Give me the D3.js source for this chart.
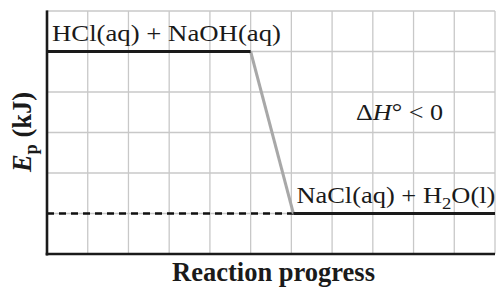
<!DOCTYPE html>
<html>
<head>
<meta charset="utf-8">
<script src="https://cdn.jsdelivr.net/npm/d3@7"></script>
<style>
  body { margin: 0; background: #fff; }
  svg { display: block; font-family: "Liberation Serif", "Times New Roman", serif; }
</style>
</head>
<body>
<div id="chart"></div>
<script>
// Energy levels (grid units) and progress points
var progress = [0, 5, 6.05, 11];
var energy   = [5, 5, 1, 1];
var gridX = [1, 2, 3, 4, 5, 6, 7, 8, 9, 10, 11];
var gridY = [1, 2, 3, 4, 5, 6];
var reactantLabel = "HCl(aq) + NaOH(aq)";
var productLabel = ["NaCl(aq) + H", "2", "O(l)"];

// Set margin parameters
var W = 496, H = 287;
var margin = {top: 11, right: 1, bottom: 33, left: 47};

var x = d3.scaleLinear().domain([0, 11]).range([margin.left, W - margin.right]);
var y = d3.scaleLinear().domain([0, 6]).range([H - margin.bottom, margin.top]);

var svg = d3.select('#chart').append('svg')
    .attr('width', W)
    .attr('height', H);

// grid
svg.append('g').selectAll('line.v')
    .data(gridX).enter().append('line')
    .attr('x1', function(d) { return x(d); })
    .attr('x2', function(d) { return x(d); })
    .attr('y1', y(0)).attr('y2', y(6))
    .attr('stroke', '#c8c8c8').attr('stroke-width', 1.3);

svg.append('g').selectAll('line.h')
    .data(gridY).enter().append('line')
    .attr('y1', function(d) { return y(d); })
    .attr('y2', function(d) { return y(d); })
    .attr('x1', x(0)).attr('x2', x(11))
    .attr('stroke', '#c8c8c8').attr('stroke-width', 1.3);

// dashed product level reference
svg.append('line')
    .attr('x1', x(progress[0])).attr('x2', x(progress[2]))
    .attr('y1', y(energy[2])).attr('y2', y(energy[2]))
    .attr('stroke', '#111').attr('stroke-width', 2.5)
    .attr('stroke-dasharray', '7,5');

// transition (grey)
svg.append('line')
    .attr('x1', x(progress[1])).attr('y1', y(energy[1]))
    .attr('x2', x(progress[2])).attr('y2', y(energy[2]))
    .attr('stroke', '#a8a8a8').attr('stroke-width', 3);

// reactant level
svg.append('line')
    .attr('x1', x(progress[0])).attr('x2', x(progress[1]))
    .attr('y1', y(energy[0])).attr('y2', y(energy[1]))
    .attr('stroke', '#1a1a1a').attr('stroke-width', 3.2);

// product level
svg.append('line')
    .attr('x1', x(progress[2])).attr('x2', x(progress[3]))
    .attr('y1', y(energy[2])).attr('y2', y(energy[3]))
    .attr('stroke', '#1a1a1a').attr('stroke-width', 3.2);

// axes
svg.append('line')
    .attr('x1', x(0)).attr('x2', x(0))
    .attr('y1', y(6) - 0.6).attr('y2', y(0) + 1.5)
    .attr('stroke', '#1a1a1a').attr('stroke-width', 2.6);
svg.append('line')
    .attr('x1', x(0) - 1.3).attr('x2', x(11))
    .attr('y1', y(0)).attr('y2', y(0))
    .attr('stroke', '#1a1a1a').attr('stroke-width', 2.6);

// level labels
svg.append('text')
    .attr('x', x(0) + 5).attr('y', y(energy[0]) - 11)
    .attr('font-size', 24).attr('fill', '#1a1a1a')
    .attr('textLength', 229).attr('lengthAdjust', 'spacingAndGlyphs')
    .text(reactantLabel);

var prod = svg.append('text')
    .attr('x', x(progress[2]) + 3).attr('y', y(energy[2]) - 11)
    .attr('font-size', 24).attr('fill', '#1a1a1a')
    .attr('textLength', 199).attr('lengthAdjust', 'spacingAndGlyphs');
prod.append('tspan').text(productLabel[0]);
prod.append('tspan').attr('font-size', 17).attr('dy', 6).text(productLabel[1]);
prod.append('tspan').attr('dy', -6).text(productLabel[2]);

var dh = svg.append('text')
    .attr('x', 356).attr('y', 120)
    .attr('font-size', 24).attr('fill', '#1a1a1a')
    .attr('textLength', 87).attr('lengthAdjust', 'spacingAndGlyphs');
dh.append('tspan').text('Δ');
dh.append('tspan').attr('font-style', 'italic').text('H');
dh.append('tspan').text('° < 0');

// axis titles
svg.append('text')
    .attr('x', 172).attr('y', 281)
    .attr('font-size', 27).attr('font-weight', 'bold').attr('fill', '#1a1a1a')
    .attr('textLength', 203).attr('lengthAdjust', 'spacingAndGlyphs')
    .text('Reaction progress');

var yl = svg.append('text')
    .attr('transform', 'translate(31,172) rotate(-90)')
    .attr('font-size', 27).attr('font-weight', 'bold').attr('fill', '#1a1a1a')
    .attr('textLength', 80).attr('lengthAdjust', 'spacingAndGlyphs');
yl.append('tspan').attr('font-style', 'italic').text('E');
yl.append('tspan').attr('font-size', 19).attr('dy', 6).text('p');
yl.append('tspan').attr('dy', -6).text(' (kJ)');
</script>
</body>
</html>
